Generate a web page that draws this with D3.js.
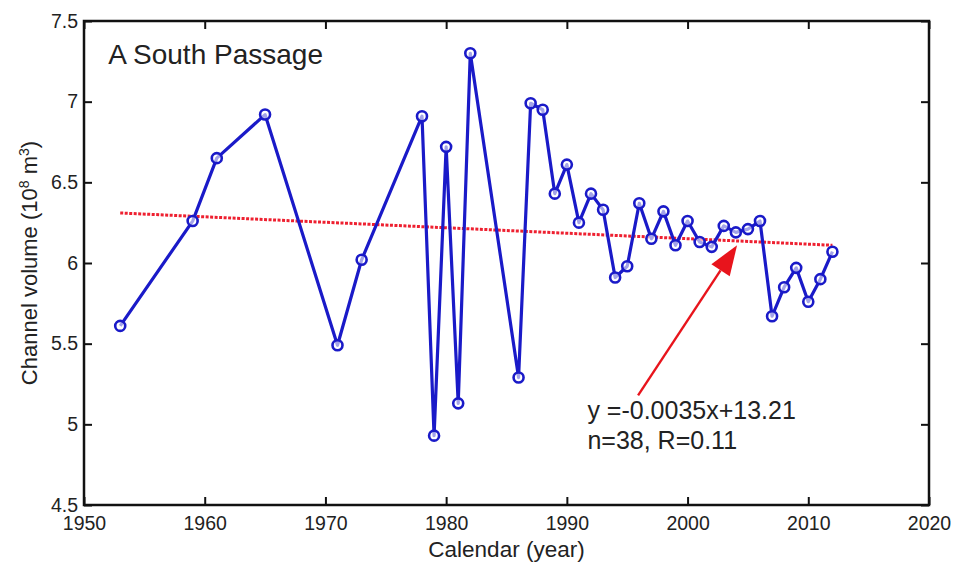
<!DOCTYPE html>
<html>
<head>
<meta charset="utf-8">
<script src="https://cdn.jsdelivr.net/npm/d3@7"></script>
<style>
  body { margin: 0; background: #fff; }
  text { font-family: "Liberation Sans", Arial, sans-serif; fill: #222; }
</style>
</head>
<body>
<script>
// South Passage channel volume

const years = [1953, 1959, 1961, 1965, 1971, 1973, 1978, 1979, 1980, 1981, 1982, 1986,
  1987, 1988, 1989, 1990, 1991, 1992, 1993, 1994, 1995, 1996, 1997, 1998, 1999,
  2000, 2001, 2002, 2003, 2004, 2005, 2006, 2007, 2008, 2009, 2010, 2011, 2012];

const volume = [5.61, 6.26, 6.65, 6.92, 5.49, 6.02, 6.91, 4.93, 6.72, 5.13, 7.30, 5.29,
  6.99, 6.95, 6.43, 6.61, 6.25, 6.43, 6.33, 5.91, 5.98, 6.37, 6.15, 6.32, 6.11,
  6.26, 6.13, 6.10, 6.23, 6.19, 6.21, 6.26, 5.67, 5.85, 5.97, 5.76, 5.90, 6.07];

// linear fit as drawn (end points)
const trendYears = [1953, 2012];
const trendValues = [6.31, 6.11];

// arrow pointing at the fit line
const arrowYears = [1995.9, 2004.1];
const arrowValues = [5.18, 6.11];

const xTicks = [1950, 1960, 1970, 1980, 1990, 2000, 2010, 2020];
const yTicks = [4.5, 5, 5.5, 6, 6.5, 7, 7.5];

const fitLabel = ["y =-0.0035x+13.21", "n=38, R=0.11"];
const panelLabel = "A South Passage";

function drawChart() {
  const margin = {top: 21, right: 27, bottom: 63, left: 84};
  const width = 956 - margin.left - margin.right;
  const height = 568 - margin.top - margin.bottom;

  const svg = d3.select("body").append("svg")
    .attr("width", 956)
    .attr("height", 568)
    .append("g")
    .attr("transform", "translate(" + margin.left + "," + margin.top + ")");

  const x = d3.scaleLinear().domain([1950, 2020]).range([0, width]);
  const y = d3.scaleLinear().domain([4.5, 7.5]).range([height, 0]);

  // ticks point inwards on all four sides, matlab style
  const tickLen = 8;
  svg.append("g")
    .attr("transform", "translate(0," + height + ")")
    .call(d3.axisBottom(x).tickValues(xTicks).tickSize(-tickLen).tickPadding(11).tickFormat(d3.format("d")))
    .call(g => g.selectAll("text").style("font-size", "19.5px"));
  svg.append("g")
    .call(d3.axisTop(x).tickValues(xTicks).tickSize(-tickLen).tickFormat(""));
  svg.append("g")
    .call(d3.axisLeft(y).tickValues(yTicks).tickSize(-tickLen).tickPadding(6).tickFormat(d3.format("")))
    .call(g => g.selectAll("text").style("font-size", "19.5px"));
  svg.append("g")
    .attr("transform", "translate(" + width + ",0)")
    .call(d3.axisRight(y).tickValues(yTicks).tickSize(-tickLen).tickFormat(""));

  svg.selectAll(".domain").remove();
  svg.selectAll(".tick line").attr("stroke", "#111").attr("stroke-width", 2);

  svg.append("rect")
    .attr("width", width)
    .attr("height", height)
    .attr("fill", "none")
    .attr("stroke", "#111")
    .attr("stroke-width", 2.5);

  // trend line (dotted red)
  svg.append("line")
    .attr("x1", x(trendYears[0])).attr("y1", y(trendValues[0]))
    .attr("x2", x(trendYears[1])).attr("y2", y(trendValues[1]))
    .attr("stroke", "#ee2030")
    .attr("stroke-width", 3)
    .attr("stroke-dasharray", "3,1.5");

  // data line + circle markers
  const pts = years.map((d, i) => [d, volume[i]]);
  svg.append("path")
    .datum(pts)
    .attr("fill", "none")
    .attr("stroke", "#1a1ac8")
    .attr("stroke-width", 3.2)
    .attr("stroke-linejoin", "round")
    .attr("d", d3.line().x(d => x(d[0])).y(d => y(d[1])));

  svg.selectAll(".pt")
    .data(pts)
    .enter().append("circle")
    .attr("class", "pt")
    .attr("cx", d => x(d[0]))
    .attr("cy", d => y(d[1]))
    .attr("r", 5)
    .attr("fill", "#fff")
    .attr("fill-opacity", 0.6)
    .attr("stroke", "#1a1ac8")
    .attr("stroke-width", 2.6);

  // arrow
  const ax0 = x(arrowYears[0]), ay0 = y(arrowValues[0]);
  const ax1 = x(arrowYears[1]), ay1 = y(arrowValues[1]);
  const ang = Math.atan2(ay1 - ay0, ax1 - ax0);
  const headLen = 30, headW = 11;
  const bx = ax1 - headLen * Math.cos(ang), by = ay1 - headLen * Math.sin(ang);
  svg.append("line")
    .attr("x1", ax0).attr("y1", ay0)
    .attr("x2", bx).attr("y2", by)
    .attr("stroke", "#e8141c")
    .attr("stroke-width", 2.4);
  svg.append("path")
    .attr("d", "M" + ax1 + "," + ay1 +
      "L" + (bx + headW * Math.sin(ang)) + "," + (by - headW * Math.cos(ang)) +
      "L" + (bx - headW * Math.sin(ang)) + "," + (by + headW * Math.cos(ang)) + "Z")
    .attr("fill", "#e8141c");

  // labels
  svg.append("text")
    .attr("x", x(1952))
    .attr("y", y(7.233))
    .style("font-size", "28px")
    .text(panelLabel);

  svg.selectAll(".fit")
    .data(fitLabel)
    .enter().append("text")
    .attr("class", "fit")
    .attr("x", x(1991.7))
    .attr("y", (d, i) => y(5.033) + i * 30)
    .style("font-size", "25px")
    .text(d => d);

  svg.append("text")
    .attr("x", width / 2)
    .attr("y", height + 52)
    .attr("text-anchor", "middle")
    .style("font-size", "22.5px")
    .text("Calendar (year)");

  const yl = svg.append("text")
    .attr("transform", "translate(-47," + (height / 2) + ") rotate(-90)")
    .attr("text-anchor", "middle")
    .style("font-size", "22px");
  yl.append("tspan").text("Channel volume (10");
  yl.append("tspan").attr("dy", -8).style("font-size", "14px").text("8");
  yl.append("tspan").attr("dy", 8).text(" m");
  yl.append("tspan").attr("dy", -8).style("font-size", "14px").text("3");
  yl.append("tspan").attr("dy", 8).text(")");
}

window.onload = drawChart;
</script>
</body>
</html>
